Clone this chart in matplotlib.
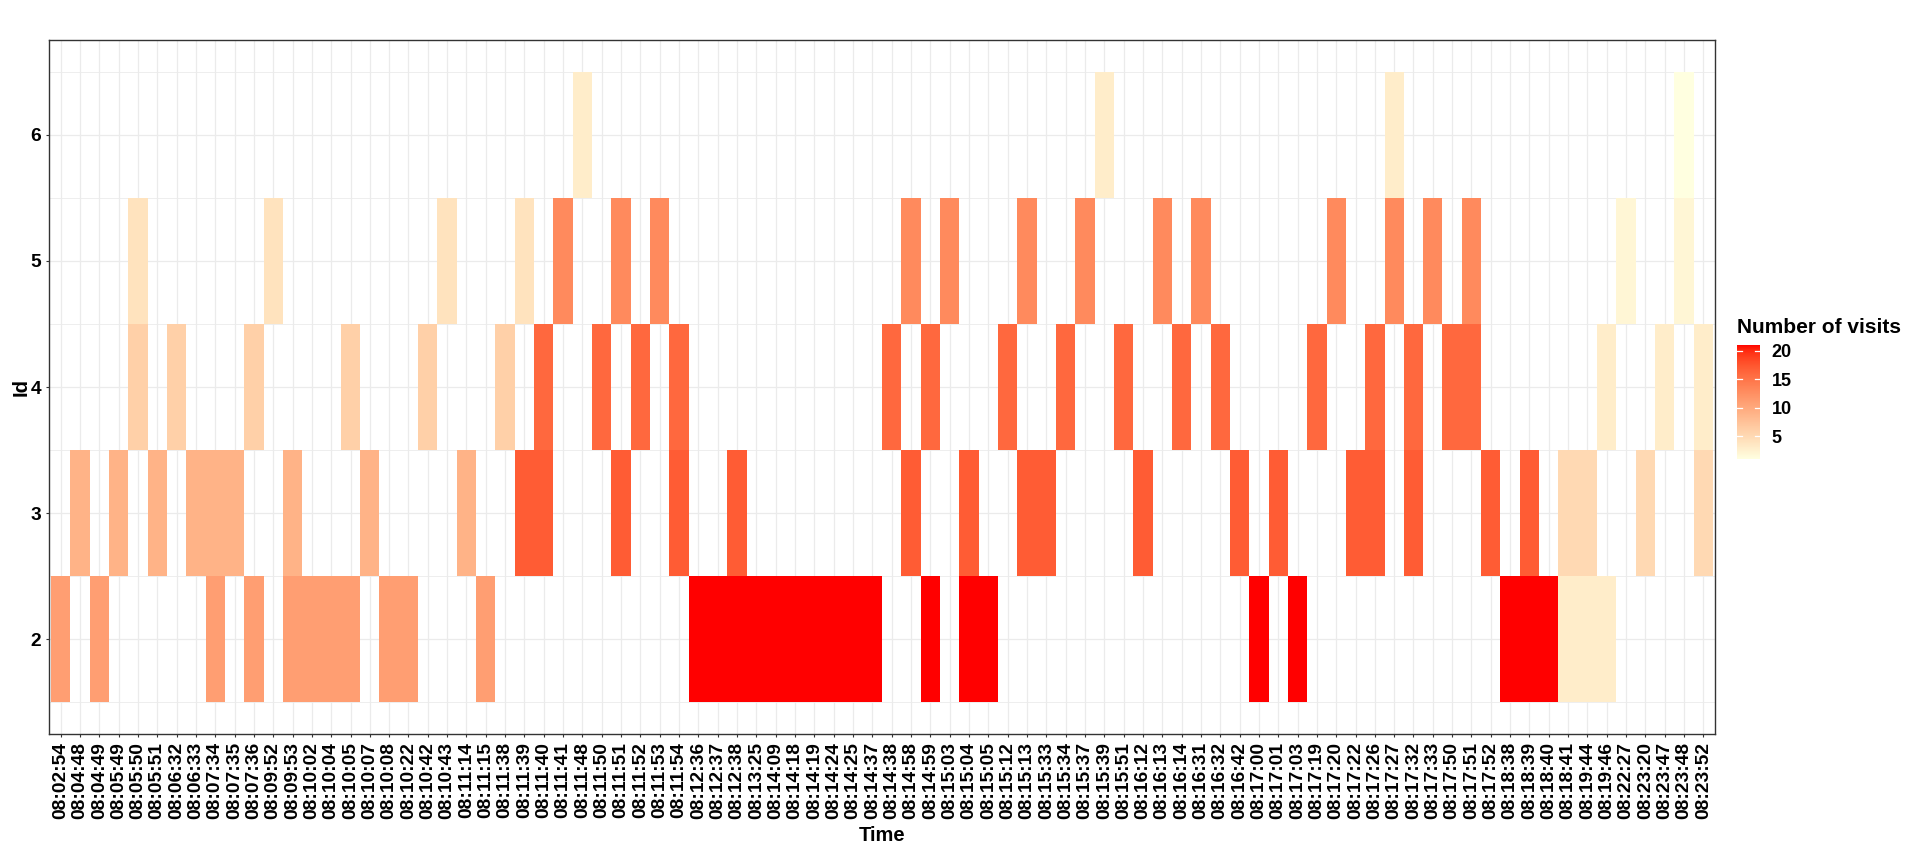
import matplotlib
matplotlib.use("Agg")
import matplotlib.pyplot as plt
import numpy as np
from matplotlib.colors import ListedColormap

plt.rcParams['font.family'] = ['Liberation Sans', 'DejaVu Sans']

# time stamps on the discrete x axis
times = ["08:02:54", "08:04:48", "08:04:49", "08:05:49", "08:05:50", "08:05:51",
         "08:06:32", "08:06:33", "08:07:34", "08:07:35", "08:07:36", "08:09:52",
         "08:09:53", "08:10:02", "08:10:04", "08:10:05", "08:10:07", "08:10:08",
         "08:10:22", "08:10:42", "08:10:43", "08:11:14", "08:11:15", "08:11:38",
         "08:11:39", "08:11:40", "08:11:41", "08:11:48", "08:11:50", "08:11:51",
         "08:11:52", "08:11:53", "08:11:54", "08:12:36", "08:12:37", "08:12:38",
         "08:13:25", "08:14:09", "08:14:18", "08:14:19", "08:14:24", "08:14:25",
         "08:14:37", "08:14:38", "08:14:58", "08:14:59", "08:15:03", "08:15:04",
         "08:15:05", "08:15:12", "08:15:13", "08:15:33", "08:15:34", "08:15:37",
         "08:15:39", "08:15:51", "08:16:12", "08:16:13", "08:16:14", "08:16:31",
         "08:16:32", "08:16:42", "08:17:00", "08:17:01", "08:17:03", "08:17:19",
         "08:17:20", "08:17:22", "08:17:26", "08:17:27", "08:17:32", "08:17:33",
         "08:17:50", "08:17:51", "08:17:52", "08:18:38", "08:18:39", "08:18:40",
         "08:18:41", "08:19:44", "08:19:46", "08:22:27", "08:23:20", "08:23:47",
         "08:23:48", "08:23:52"]

# visits per Id: time stamps and number of visits
id2_times = ["08:02:54", "08:04:49", "08:07:34", "08:07:36", "08:09:53", "08:10:02",
             "08:10:04", "08:10:05", "08:10:08", "08:10:22", "08:11:15",
             "08:12:36", "08:12:37", "08:12:38", "08:13:25", "08:14:09", "08:14:18",
             "08:14:19", "08:14:24", "08:14:25", "08:14:37", "08:14:59", "08:15:04",
             "08:15:05", "08:17:00", "08:17:03", "08:18:38", "08:18:39", "08:18:40",
             "08:18:41", "08:19:44", "08:19:46"]
id2_visits = [11, 11, 11, 11, 11, 11, 11, 11, 11, 11, 11,
              21, 21, 21, 21, 21, 21, 21, 21, 21, 21, 21, 21, 21, 21, 21, 21, 21, 21,
              3, 3, 3]

id3_times = ["08:04:48", "08:05:49", "08:05:51", "08:06:33", "08:07:34", "08:07:35",
             "08:09:53", "08:10:07", "08:11:14",
             "08:11:39", "08:11:40", "08:11:51", "08:11:54", "08:12:38", "08:14:58",
             "08:15:04", "08:15:13", "08:15:33", "08:16:12", "08:16:42", "08:17:01",
             "08:17:22", "08:17:26", "08:17:32", "08:17:52", "08:18:39",
             "08:18:41", "08:19:44", "08:23:20", "08:23:52"]
id3_visits = [9, 9, 9, 9, 9, 9, 9, 9, 9,
              17, 17, 17, 17, 17, 17, 17, 17, 17, 17, 17, 17, 17, 17, 17, 17, 17,
              5, 5, 5, 5]

id4_times = ["08:05:50", "08:06:32", "08:07:36", "08:10:05", "08:10:42", "08:11:38",
             "08:11:40", "08:11:50", "08:11:52", "08:11:54", "08:14:38", "08:14:59",
             "08:15:12", "08:15:34", "08:15:51", "08:16:14", "08:16:32", "08:17:19",
             "08:17:26", "08:17:32", "08:17:50", "08:17:51",
             "08:19:46", "08:23:47", "08:23:52"]
id4_visits = [6, 6, 6, 6, 6, 6,
              16, 16, 16, 16, 16, 16, 16, 16, 16, 16, 16, 16, 16, 16, 16, 16,
              3, 3, 3]

id5_times = ["08:05:50", "08:09:52", "08:10:43", "08:11:39",
             "08:11:41", "08:11:51", "08:11:53", "08:14:58", "08:15:03", "08:15:13",
             "08:15:37", "08:16:13", "08:16:31", "08:17:20", "08:17:27", "08:17:33",
             "08:17:51",
             "08:22:27", "08:23:48"]
id5_visits = [4, 4, 4, 4,
              13, 13, 13, 13, 13, 13, 13, 13, 13, 13, 13, 13, 13,
              2, 2]

id6_times = ["08:11:48", "08:15:39", "08:17:27", "08:23:48"]
id6_visits = [3, 3, 3, 1]

ids = [2, 3, 4, 5, 6]
id_times = [id2_times, id3_times, id4_times, id5_times, id6_times]
id_visits = [id2_visits, id3_visits, id4_visits, id5_visits, id6_visits]


def hex_to_lab(h):
    rgb = np.array([int(h[i:i + 2], 16) for i in (1, 3, 5)]) / 255.0
    lin = np.where(rgb <= 0.04045, rgb / 12.92, ((rgb + 0.055) / 1.055) ** 2.4)
    m = np.array([[0.4124, 0.3576, 0.1805],
                  [0.2126, 0.7152, 0.0722],
                  [0.0193, 0.1192, 0.9505]])
    xyz = m @ lin / np.array([0.95047, 1.0, 1.08883])
    f = np.where(xyz > 0.008856, np.cbrt(xyz), 7.787 * xyz + 16 / 116)
    return np.array([116 * f[1] - 16, 500 * (f[0] - f[1]), 200 * (f[1] - f[2])])


def lab_to_rgb(lab):
    fy = (lab[0] + 16) / 116
    f = np.array([fy + lab[1] / 500, fy, fy - lab[2] / 200])
    xyz = np.where(f ** 3 > 0.008856, f ** 3, (f - 16 / 116) / 7.787)
    xyz = xyz * np.array([0.95047, 1.0, 1.08883])
    minv = np.array([[3.2406, -1.5372, -0.4986],
                     [-0.9689, 1.8758, 0.0415],
                     [0.0557, -0.2040, 1.0570]])
    lin = np.clip(minv @ xyz, 0, 1)
    rgb = np.where(lin <= 0.0031308, 12.92 * lin, 1.055 * lin ** (1 / 2.4) - 0.055)
    return np.clip(rgb, 0, 1)


# gradient lightyellow -> red interpolated in CIELAB like ggplot
lab_lo, lab_hi = hex_to_lab("#FFFFE0"), hex_to_lab("#FF0000")
ramp = [lab_to_rgb(lab_lo + (lab_hi - lab_lo) * t) for t in np.linspace(0, 1, 256)]
cmap = ListedColormap(ramp)

Z = np.full((len(ids), len(times)), np.nan)
for k, (ts, vs) in enumerate(zip(id_times, id_visits)):
    for t, v in zip(ts, vs):
        Z[k, times.index(t)] = v

W, H = 1917, 852
fig = plt.figure(figsize=(W / 100, H / 100), dpi=100)
ax = fig.add_axes([49 / W, 1 - 734 / H, (1715 - 49) / W, (734 - 40) / H])
ax.set_axisbelow(True)

x_edges = np.arange(len(times) + 1) - 0.5
y_edges = np.array(ids + [7]) - 0.5
mesh = ax.pcolormesh(x_edges, y_edges, Z, cmap=cmap,
                     vmin=np.nanmin(Z), vmax=np.nanmax(Z), shading='flat')

ax.set_xlim(-0.6, len(times) - 0.4)
ax.set_ylim(1.25, 6.75)
ax.set_xticks(range(len(times)))
ax.set_xticklabels(times, rotation=90, fontsize=13.8, fontweight='bold')
ax.set_yticks(ids)
ax.set_yticklabels([str(i) for i in ids], fontsize=13.8, fontweight='bold')
ax.set_yticks(np.arange(1.5, 7.0, 1.0), minor=True)
ax.tick_params(which='major', length=2.4, width=0.8, color='#333333', pad=3.3)
ax.tick_params(which='minor', length=0)
ax.grid(which='major', color='#EBEBEB', lw=0.9)
ax.yaxis.grid(which='minor', color='#EBEBEB', lw=0.6)
for s in ax.spines.values():
    s.set_color('#333333')
    s.set_linewidth(1.0)

fig.text(882 / W, 1 - 841 / H, "Time", ha='center', va='baseline',
         fontsize=14.5, fontweight='bold')
fig.text(21 / W, 1 - 387 / H, "Id", ha='center', va='center', rotation=90,
         fontsize=14.5, fontweight='bold')

# colour bar legend
fig.text(1737 / W, 1 - 333 / H, "Number of visits", ha='left', va='baseline',
         fontsize=15, fontweight='bold')
cax = fig.add_axes([1737 / W, 1 - 459 / H, 23 / W, 114 / H])
cb = fig.colorbar(mesh, cax=cax)
cb.outline.set_visible(False)
cb.set_ticks([5, 10, 15, 20])
cax.tick_params(length=0, pad=8.4, labelsize=13)
for lab in cax.get_yticklabels():
    lab.set_fontweight('bold')
tr = cax.get_yaxis_transform()
for v in [5, 10, 15, 20]:
    cax.plot([0, 0.2], [v, v], color='white', lw=0.9, transform=tr)
    cax.plot([0.8, 1], [v, v], color='white', lw=0.9, transform=tr)

fig.savefig("out.png", dpi=100)
